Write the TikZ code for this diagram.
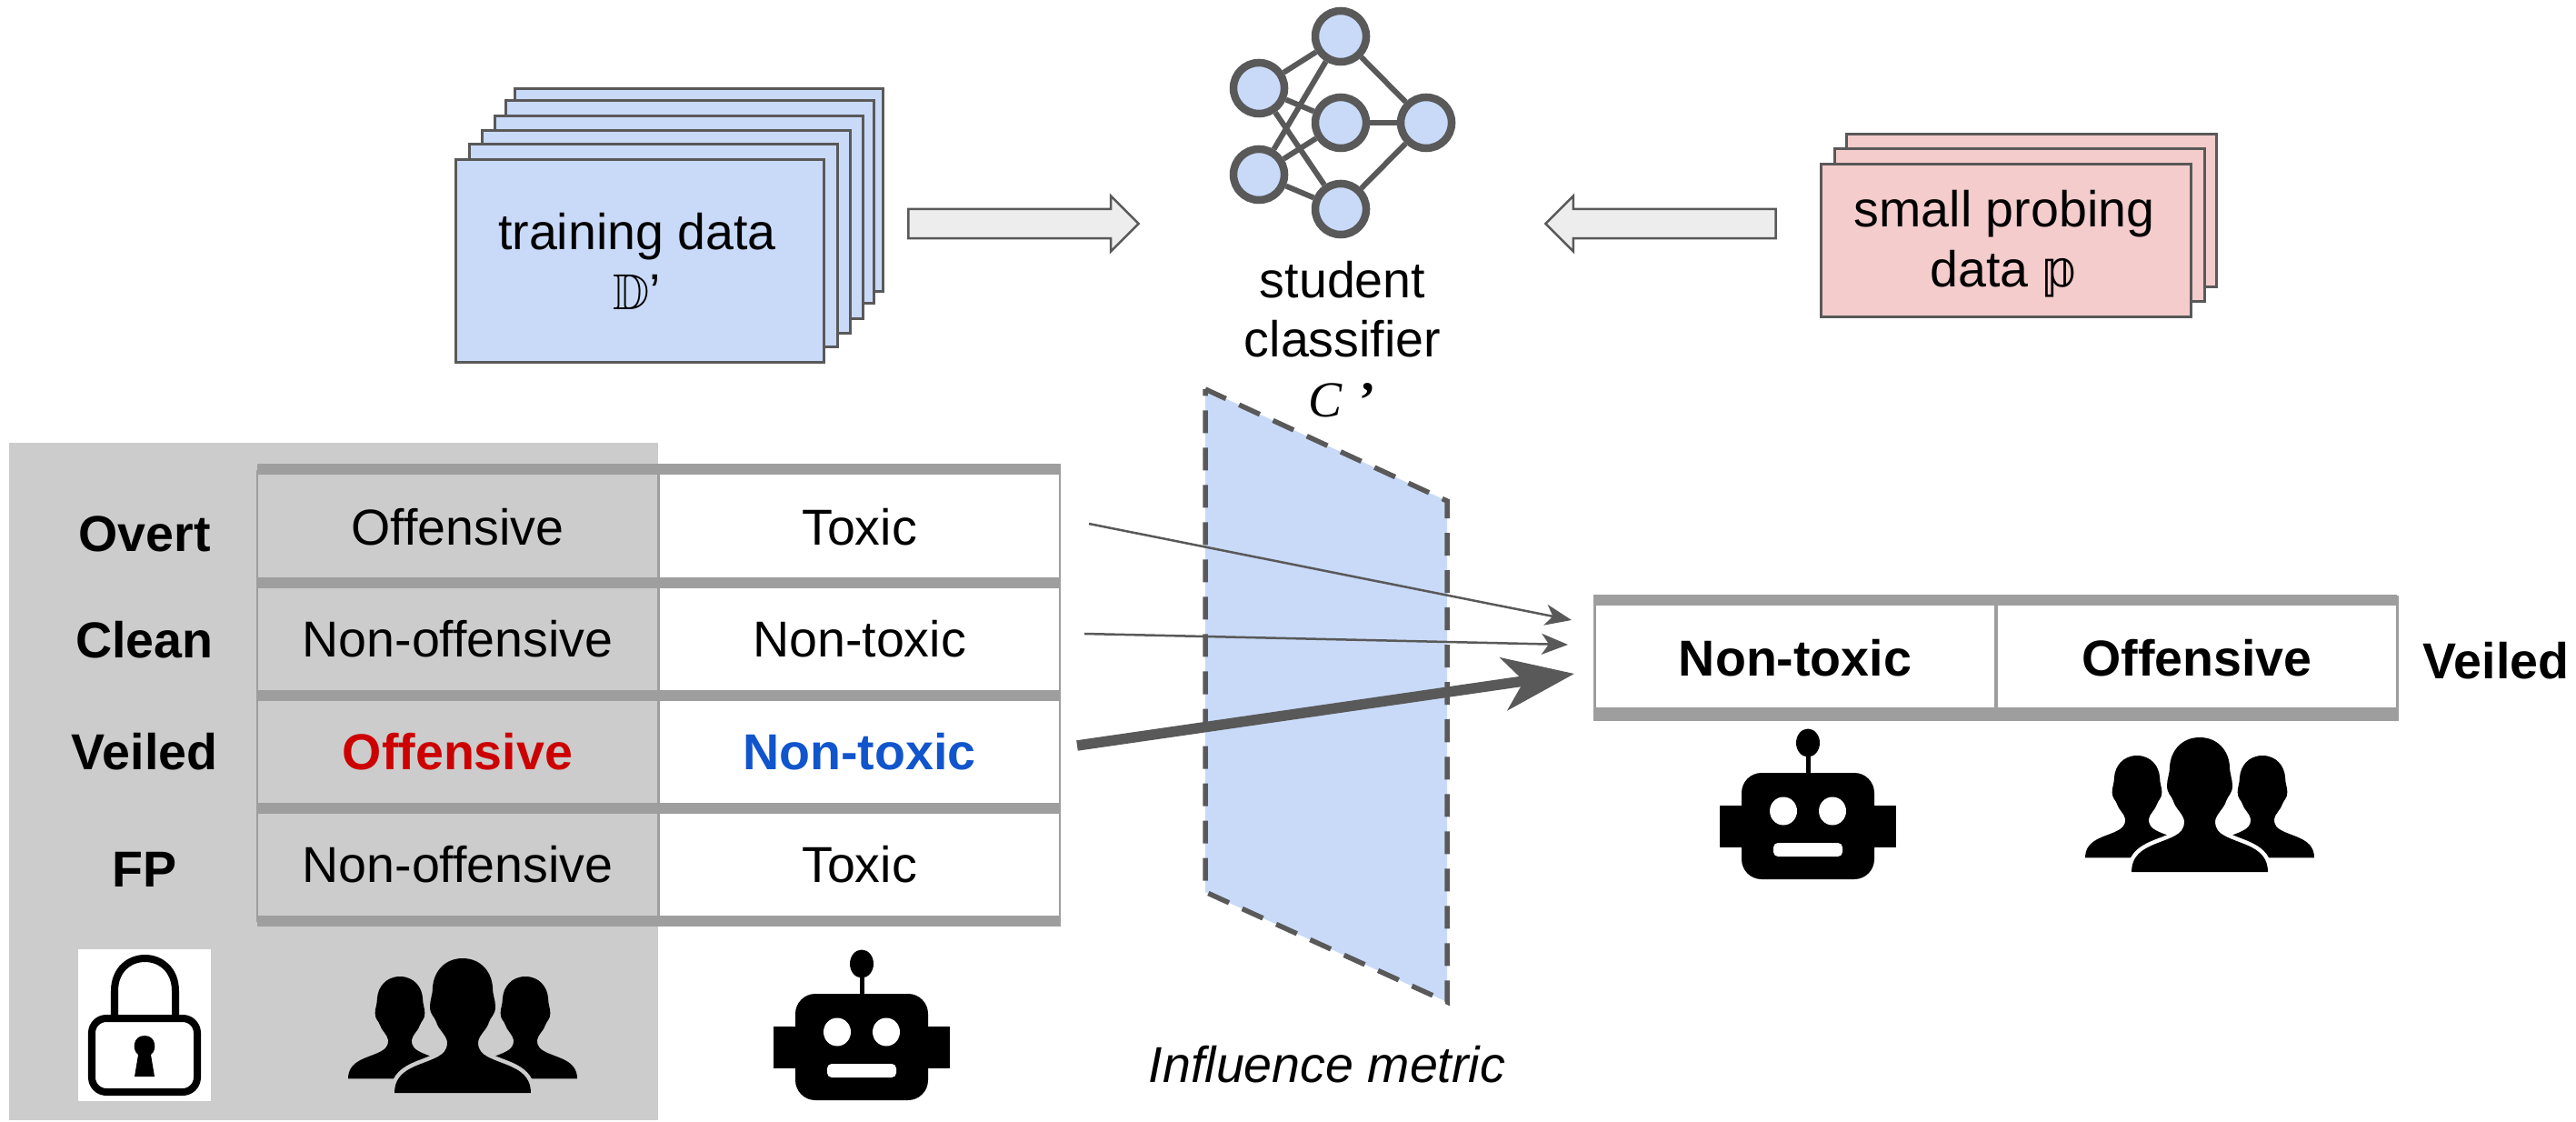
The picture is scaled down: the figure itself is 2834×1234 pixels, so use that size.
\documentclass[tikz,border=0pt]{standalone}
\usepackage{amssymb}
\usepackage{fontspec}
\setmainfont{Liberation Sans}
\newfontfamily\dejafont{DejaVu Sans}
\newfontfamily\timesfont{Liberation Serif}
\usetikzlibrary{arrows.meta,shapes.arrows}
\definecolor{planeblue}{HTML}{C9DAF8}
\definecolor{cardred}{HTML}{F4CCCC}
\definecolor{edgegrey}{HTML}{595959}
\definecolor{bargrey}{HTML}{9E9E9E}
\definecolor{panelgrey}{HTML}{CCCCCC}
\definecolor{offred}{HTML}{CC0000}
\definecolor{nonblue}{HTML}{1155CC}
\newcommand{\labelfont}{\fontsize{15.8}{18.7}\selectfont}
\newcommand{\personpath}{(0,0) .. controls (20,0) and (32,15) .. (33,32) .. controls (33,40) and (36,46) .. (36,53) .. controls (36,62) and (31,64) .. (29,70) .. controls (27,78) and (18,84) .. (17,92) .. controls (17,102) and (22,105) .. (27,108) .. controls (45,118) and (75,120) .. (75,148) -- (-75,148) .. controls (-75,120) and (-45,118) .. (-27,108) .. controls (-22,105) and (-17,102) .. (-17,92) .. controls (-18,84) and (-27,78) .. (-29,70) .. controls (-31,64) and (-36,62) .. (-36,53) .. controls (-36,46) and (-33,40) .. (-33,32) .. controls (-32,15) and (-20,0) .. (0,0) -- cycle}
\tikzset{
    every node/.style = {inner sep = 0, font = \labelfont},
    card/.style = {draw = edgegrey, line width = 0.3mm, anchor = north west},
    bluecard/.style = {card, fill = planeblue, minimum width = 40.5mm, minimum height = 22.3mm},
    redcard/.style = {card, fill = cardred, minimum width = 40.7mm, minimum height = 16.8mm},
    neuron/.style = {circle, draw = edgegrey, line width = 0.85mm, fill = planeblue, minimum size = 5.6mm},
    netedge/.style = {draw = edgegrey, line width = 0.6mm},
    blockarrow/.style = {single arrow, draw = edgegrey, line width = 0.25mm, fill = black!7,
        minimum height = 25.3mm, single arrow head extend = 1.45mm},
    cell/.style = {draw = bargrey, line width = 0.25mm, minimum width = 44.1mm, minimum height = 12.4mm},
    boldcell/.style = {cell, font = \labelfont\bfseries},
    bigcell/.style = {boldcell, minimum height = 13.5mm},
    rowlabel/.style = {font = \labelfont\bfseries},
    thinflow/.style = {draw = edgegrey, line width = 0.25mm, -{Stealth[length = 2.9mm, width = 2.3mm, inset = 0.8mm]}},
    thickflow/.style = {draw = edgegrey, line width = 1.15mm, -{Stealth[length = 7.8mm, width = 5.8mm, inset = 2.2mm]}},
    pics/people/.style = {code = {
        \fill[black, shift = {(-69,20)}, scale = 0.76] \personpath;
        \fill[black, shift = {(69,20)}, scale = 0.76] \personpath;
        \path[fill = black, draw = #1, line width = 0.9mm] \personpath;
        \fill[black] \personpath;
    }},
    pics/robot/.style = {code = {
        \fill[black] (-2.5,-20) rectangle (2.5,5);
        \fill[black] (0,-33) ellipse (13 and 15.5);
        \fill[black] (-97,36) rectangle (97,82);
        \fill[black, rounded corners = 2.2mm] (-73,0) rectangle (73,117);
        \fill[white] (-27,42) ellipse (15 and 15.5);
        \fill[white] (27,42) ellipse (15 and 15.5);
        \fill[white, rounded corners = 0.5mm] (-38,77) rectangle (38,92);
    }}
}
\begin{document}
\begin{tikzpicture}[x = 0.01cm, y = -0.01cm]
    \useasboundingbox (0,0) rectangle (2834,1234);
    % training data stack
    \foreach \x/\y/\n in {565/96/e, 555/109/d, 543/126/c, 529/142/b, 515/157/a, 500/174/f}
        \node[bluecard] (blue\n) at (\x,\y) {};
    \node[align = center] (train) at (701,287) {training data\\$\mathbb{D}$'};
    % probing data stack
    \foreach \x/\y/\n in {2030/146/b, 2017/162/a, 2002/179/c}
        \node[redcard] (red\n) at (\x,\y) {};
    \node[align = center] (probe) at (2205,268) {small probing\\data {\dejafont 𝕡}};
    \node[blockarrow] (arrowtrain) at (1118,246) {\rule{0pt}{2.95mm}};
    \node[blockarrow, shape border rotate = 180] (arrowprobe) at (1835,246) {\rule{0pt}{2.95mm}};
    % student network
    \node[neuron] (ntop) at (1475,40) {};
    \node[neuron] (nup) at (1385,97) {};
    \node[neuron] (nlow) at (1385,192) {};
    \node[neuron] (nmid) at (1475,135) {};
    \node[neuron] (nbot) at (1475,230) {};
    \node[neuron] (nout) at (1569,135) {};
    \foreach \a/\b in {nup/ntop, nup/nmid, nup/nbot, nlow/ntop, nlow/nmid, nlow/nbot, ntop/nout, nmid/nout, nbot/nout}
        \draw[netedge] (\a) -- (\b);
    \node[align = center] (student) at (1477,373) {student\\classifier\\{\timesfont\itshape C}\,\,{\timesfont\bfseries\textquoteright}};
    % left table
    \fill[panelgrey] (10,487) rectangle (724,1232);
    \node[cell] (off1) at (503.5,580) {Offensive};
    \node[cell] (tox1) at (945.5,580) {Toxic};
    \node[cell] (off2) at (503.5,702.5) {Non-offensive};
    \node[cell] (tox2) at (945.5,702.5) {Non-toxic};
    \node[boldcell, text = offred] (off3) at (503.5,827) {Offensive};
    \node[boldcell, text = nonblue] (tox3) at (945.5,827) {Non-toxic};
    \node[cell] (off4) at (503.5,951) {Non-offensive};
    \node[cell] (tox4) at (945.5,951) {Toxic};
    \foreach \y in {516, 641, 765, 889, 1013}
        \fill[bargrey] (283,\y-6) rectangle (1167,\y+6);
    \node[rowlabel] (overt) at (159,587) {Overt};
    \node[rowlabel] (clean) at (159,704) {Clean};
    \node[rowlabel] (veiled) at (159,827) {Veiled};
    \node[rowlabel] (fp) at (159,956) {FP};
    % lock
    \fill[white] (86,1044) rectangle (232,1211);
    \draw[black, line width = 0.8mm, rounded corners = 1.6mm] (101,1120) rectangle (217,1201);
    \draw[black, line width = 0.8mm] (126,1120) -- (126,1090) .. controls (126,1042) and (193,1042) .. (193,1090) -- (193,1120);
    \fill[black] (159,1139) .. controls (172,1139) and (173,1155) .. (166,1160) -- (170,1184) -- (148,1184) -- (152,1160) .. controls (145,1155) and (146,1139) .. (159,1139) -- cycle;
    \pic at (509,1054) {people = panelgrey};
    \pic at (948,1093) {robot};
    % influence plane
    \draw[fill = planeblue, draw = edgegrey, line width = 0.55mm, dash pattern = on 2.5mm off 1.6mm]
        (1326,428) -- (1592,551) -- (1592,1102) -- (1326,981) -- cycle;
    \node[font = \labelfont\itshape] (influence) at (1460,1171) {Influence metric};
    % veiled result
    \node[bigcell] (resnon) at (1975,724) {Non-toxic};
    \node[bigcell] (resoff) at (2417,724) {Offensive};
    \foreach \y in {660, 783.5}
        \fill[bargrey] (1753,\y-6) rectangle (2637,\y+6);
    \node[rowlabel] (resveiled) at (2746,727) {Veiled};
    \pic at (1989,850) {robot};
    \pic at (2420,811) {people = white};
    % influence flows
    \coordinate (starta) at (1198,576);
    \coordinate (startb) at (1193,697);
    \coordinate (startc) at (1185,820);
    \coordinate (enda) at (1729,682);
    \coordinate (endb) at (1725,709);
    \coordinate (endc) at (1732,741);
    \draw[thinflow] (starta) -- (enda);
    \draw[thinflow] (startb) -- (endb);
    \draw[thickflow] (startc) -- (endc);
\end{tikzpicture}
\end{document}
